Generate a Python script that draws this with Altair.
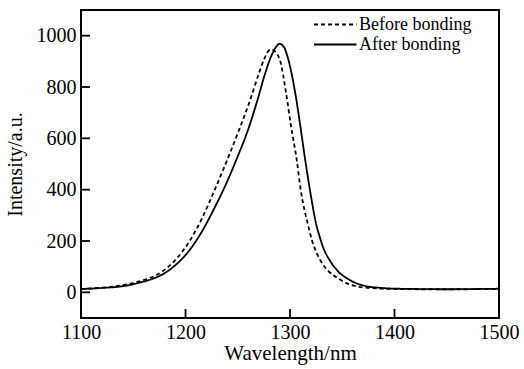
import altair as alt
import pandas as pd

before_wl = [1100, 1120, 1140, 1160, 1170, 1178, 1190, 1204, 1216, 1228, 1240, 1251, 1262, 1270, 1276, 1281,
             1283.5, 1287, 1290.4, 1296.2, 1301, 1306.4, 1310.2, 1317.5, 1321, 1325, 1329, 1337, 1346, 1355,
             1364, 1380, 1400, 1430, 1460, 1500]
before_int = [13, 18, 28, 48, 63, 82, 125, 200, 290, 400, 517, 630, 751, 850, 915, 946,
              945, 932, 905, 778, 647, 517, 401, 258, 203, 158, 125, 82, 55, 34,
              23, 16, 13, 12, 12, 13]

after_wl = [1100, 1120, 1140, 1160, 1170, 1178, 1190, 1204, 1215, 1226, 1238, 1249, 1260, 1269, 1276, 1282,
            1287, 1290, 1294, 1298.4, 1305, 1310, 1314.5, 1319, 1325.5, 1328, 1332, 1338, 1346, 1356,
            1365, 1374, 1385, 1396, 1420, 1450, 1480, 1500]
after_int = [13, 17, 24, 42, 55, 70, 105, 165, 232, 315, 415, 520, 635, 751, 850, 920,
             958, 968, 957, 907, 777, 645, 517, 401, 258, 222, 172, 125, 82, 51,
             33, 23, 18, 15, 13, 12, 13, 14]

series_names = ["Before bonding", "After bonding"]
x_ticks = [1100, 1200, 1300, 1400, 1500]
y_ticks = [0, 200, 400, 600, 800, 1000]

df = pd.concat([
    pd.DataFrame({"wl": before_wl, "intensity": before_int, "series": series_names[0]}),
    pd.DataFrame({"wl": after_wl, "intensity": after_int, "series": series_names[1]}),
])

FONT = "Liberation Serif"
W, H = 418, 308

xscale = alt.Scale(domain=[1100, 1500], nice=False, zero=False)
yscale = alt.Scale(domain=[-100, 1100], nice=False, zero=False)

lines = alt.Chart(df).mark_line(color="black", strokeWidth=1.8, interpolate="monotone").encode(
    x=alt.X("wl:Q", scale=xscale,
            axis=alt.Axis(title="Wavelength/nm", values=x_ticks, format="d", grid=False, ticks=False,
                          domain=False, labelPadding=4, titlePadding=0, labelFlush=False,
                          titleFontSize=21)),
    y=alt.Y("intensity:Q", scale=yscale,
            axis=alt.Axis(title="Intensity/a.u.", values=y_ticks, format="d", grid=False, ticks=False,
                          domain=False, labelPadding=5, titlePadding=11, labelFlush=False,
                          titleFontSize=20)),
    strokeDash=alt.StrokeDash("series:N",
                              scale=alt.Scale(domain=series_names, range=[[4, 3], [1, 0]]),
                              legend=alt.Legend(title=None, orient="none", legendX=232, legendY=5,
                                                symbolType="M-1,0H4", symbolSize=289,
                                                symbolStrokeWidth=1.8, symbolStrokeColor="black",
                                                labelFont=FONT, labelFontSize=18, labelColor="black",
                                                labelOffset=27, rowPadding=1)),
    order=alt.Order("wl:Q"),
)

yt = alt.Chart(pd.DataFrame({"v": y_ticks})).mark_rule(color="black", strokeWidth=1.8).encode(
    y=alt.Y("v:Q", scale=yscale), x=alt.value(0), x2=alt.value(9))
xt = alt.Chart(pd.DataFrame({"v": x_ticks})).mark_rule(color="black", strokeWidth=1.8).encode(
    x=alt.X("v:Q", scale=xscale), y=alt.value(H), y2=alt.value(H - 9))

chart = alt.layer(lines, yt, xt).properties(
    width=W, height=H,
    autosize=alt.AutoSizeParams(type="none"),
    padding={"left": 81, "top": 10, "right": 25, "bottom": 51},
    background="white",
).configure_view(stroke="black", strokeWidth=2).configure_axis(
    labelFont=FONT, labelFontSize=20, labelColor="black",
    titleFont=FONT, titleFontWeight="normal", titleColor="black",
)

chart.save("out.html", embed_options={"renderer": "svg", "actions": False})
